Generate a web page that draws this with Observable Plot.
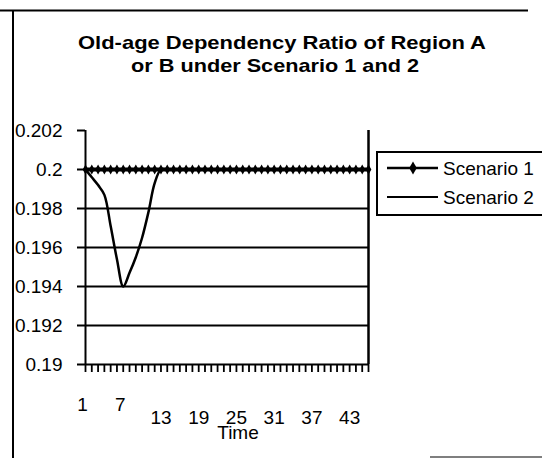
<!DOCTYPE html>
<html><head><meta charset="utf-8">
<script src="https://cdn.jsdelivr.net/npm/d3@7"></script>
<script src="https://cdn.jsdelivr.net/npm/@observablehq/plot@0.6"></script>
<style>body{margin:0;background:#fff} svg{display:block}</style>
</head><body><div id="chart"></div>
<script>
const time = [1,2,3,4,5,6,7,8,9,10,11,12,13,14,15,16,17,18,19,20,21,22,23,24,25,26,27,28,29,30,31,32,33,34,35,36,37,38,39,40,41,42,43,44,45,46];
const scenario1 = [0.2,0.2,0.2,0.2,0.2,0.2,0.2,0.2,0.2,0.2,0.2,0.2,0.2,0.2,0.2,0.2,0.2,0.2,0.2,0.2,0.2,0.2,0.2,0.2,0.2,0.2,0.2,0.2,0.2,0.2,0.2,0.2,0.2,0.2,0.2,0.2,0.2,0.2,0.2,0.2,0.2,0.2,0.2,0.2,0.2,0.2];
const scenario2 = [0.2,0.1996,0.1992,0.1987,0.1971,0.1954,0.1940,0.1947,0.1955,0.1965,0.1978,0.1993,0.2,0.2,0.2,0.2,0.2,0.2,0.2,0.2,0.2,0.2,0.2,0.2,0.2,0.2,0.2,0.2,0.2,0.2,0.2,0.2,0.2,0.2,0.2,0.2,0.2,0.2,0.2,0.2,0.2,0.2,0.2,0.2,0.2,0.2];
const xLabelsHigh = [1,7];
const xLabelsLow = [13,19,25,31,37,43];
const yTicks = [0.19,0.192,0.194,0.196,0.198,0.2,0.202];
const gridTicks = [0.192,0.194,0.196,0.198,0.2];
const seriesNames = ["Scenario 1","Scenario 2"];
const titleLines = ["Old-age Dependency Ratio of Region A","or B under Scenario 1 and 2"];
const xTitle = "Time";

const font = "Liberation Sans, Arial, Helvetica, sans-serif";
const fmt = d => String(+d.toFixed(3));

const chart = Plot.plot({
  width: 542, height: 458,
  marginLeft: 85, marginRight: 174, marginTop: 130, marginBottom: 94,
  style: {fontFamily: font, fontSize: "19px", color: "#000", background: "#fff"},
  x: {domain: [1, 46], label: null},
  y: {domain: [0.19, 0.202], label: null},
  marks: [
    Plot.ruleY(gridTicks, {stroke: "#000", strokeWidth: 2}),
    Plot.ruleY([0.19], {stroke: "#000", strokeWidth: 2}),
    Plot.ruleX([1], {stroke: "#000", strokeWidth: 2}),
    Plot.ruleX([46], {stroke: "#000", strokeWidth: 2.5}),
    Plot.axisY({ticks: yTicks, tickSize: 8, tickPadding: 15, tickFormat: fmt, fontSize: 19, strokeWidth: 2, label: null}),
    Plot.axisX({ticks: time, tickSize: 8, tickFormat: () => "", strokeWidth: 1.8, label: null}),
    Plot.axisX({ticks: xLabelsHigh, tickSize: 0, tickPadding: 33, fontSize: 19, dx: -3, label: null}),
    Plot.axisX({ticks: xLabelsLow, tickSize: 0, tickPadding: 46, fontSize: 19, label: null}),
    Plot.text([xTitle], {frameAnchor: "bottom", dx: 11, dy: 68, lineAnchor: "middle", fontSize: 19}),
    Plot.line(time, {x: d => d, y: (d, i) => scenario2[i], stroke: "#000", strokeWidth: 2.5, curve: "catmull-rom"}),
    Plot.line(time, {x: d => d, y: (d, i) => scenario1[i], stroke: "#000", strokeWidth: 4}),
    Plot.dot(time, {x: d => d, y: (d, i) => scenario1[i], symbol: "diamond", r: 3, fill: "#000", stroke: "none"})
  ]
});

const svg = d3.select(chart);
// outer frame
svg.append("line").attr("x1", 0).attr("x2", 528).attr("y1", 10.5).attr("y2", 10.5).attr("stroke", "#000").attr("stroke-width", 2);
svg.append("line").attr("x1", 13).attr("x2", 13).attr("y1", 10).attr("y2", 458).attr("stroke", "#000").attr("stroke-width", 2);
svg.append("line").attr("x1", 430).attr("x2", 542).attr("y1", 457).attr("y2", 457).attr("stroke", "#555").attr("stroke-width", 1.5);
// title
const tl = [{x: 282, y: 49, len: 408}, {x: 275, y: 72, len: 288}];
titleLines.forEach((s, i) => svg.append("text")
  .attr("text-anchor", "middle").attr("font-family", font).attr("font-weight", "bold").attr("font-size", 19).attr("fill", "#000")
  .attr("x", tl[i].x).attr("y", tl[i].y).attr("textLength", tl[i].len).attr("lengthAdjust", "spacingAndGlyphs").text(s));
// legend
const lg = svg.append("g").attr("font-family", font).attr("font-size", 19).attr("text-anchor", "start");
lg.append("rect").attr("x", 377).attr("y", 152).attr("width", 175).attr("height", 63).attr("fill", "none").attr("stroke", "#000").attr("stroke-width", 2);
seriesNames.forEach((name, i) => {
  const y = 168 + i * 29;
  lg.append("line").attr("x1", 387).attr("x2", 438).attr("y1", y).attr("y2", y).attr("stroke", "#000").attr("stroke-width", i === 0 ? 2.5 : 2);
  if (i === 0) lg.append("path").attr("d", d3.symbol(d3.symbolDiamond, 50)()).attr("transform", `translate(413,${y})`).attr("fill", "#000");
  lg.append("text").attr("x", 443).attr("y", y).attr("dy", "0.35em").attr("fill", "#000").attr("text-anchor", "start").text(name);
});
document.getElementById("chart").appendChild(chart);
</script>
</body></html>
